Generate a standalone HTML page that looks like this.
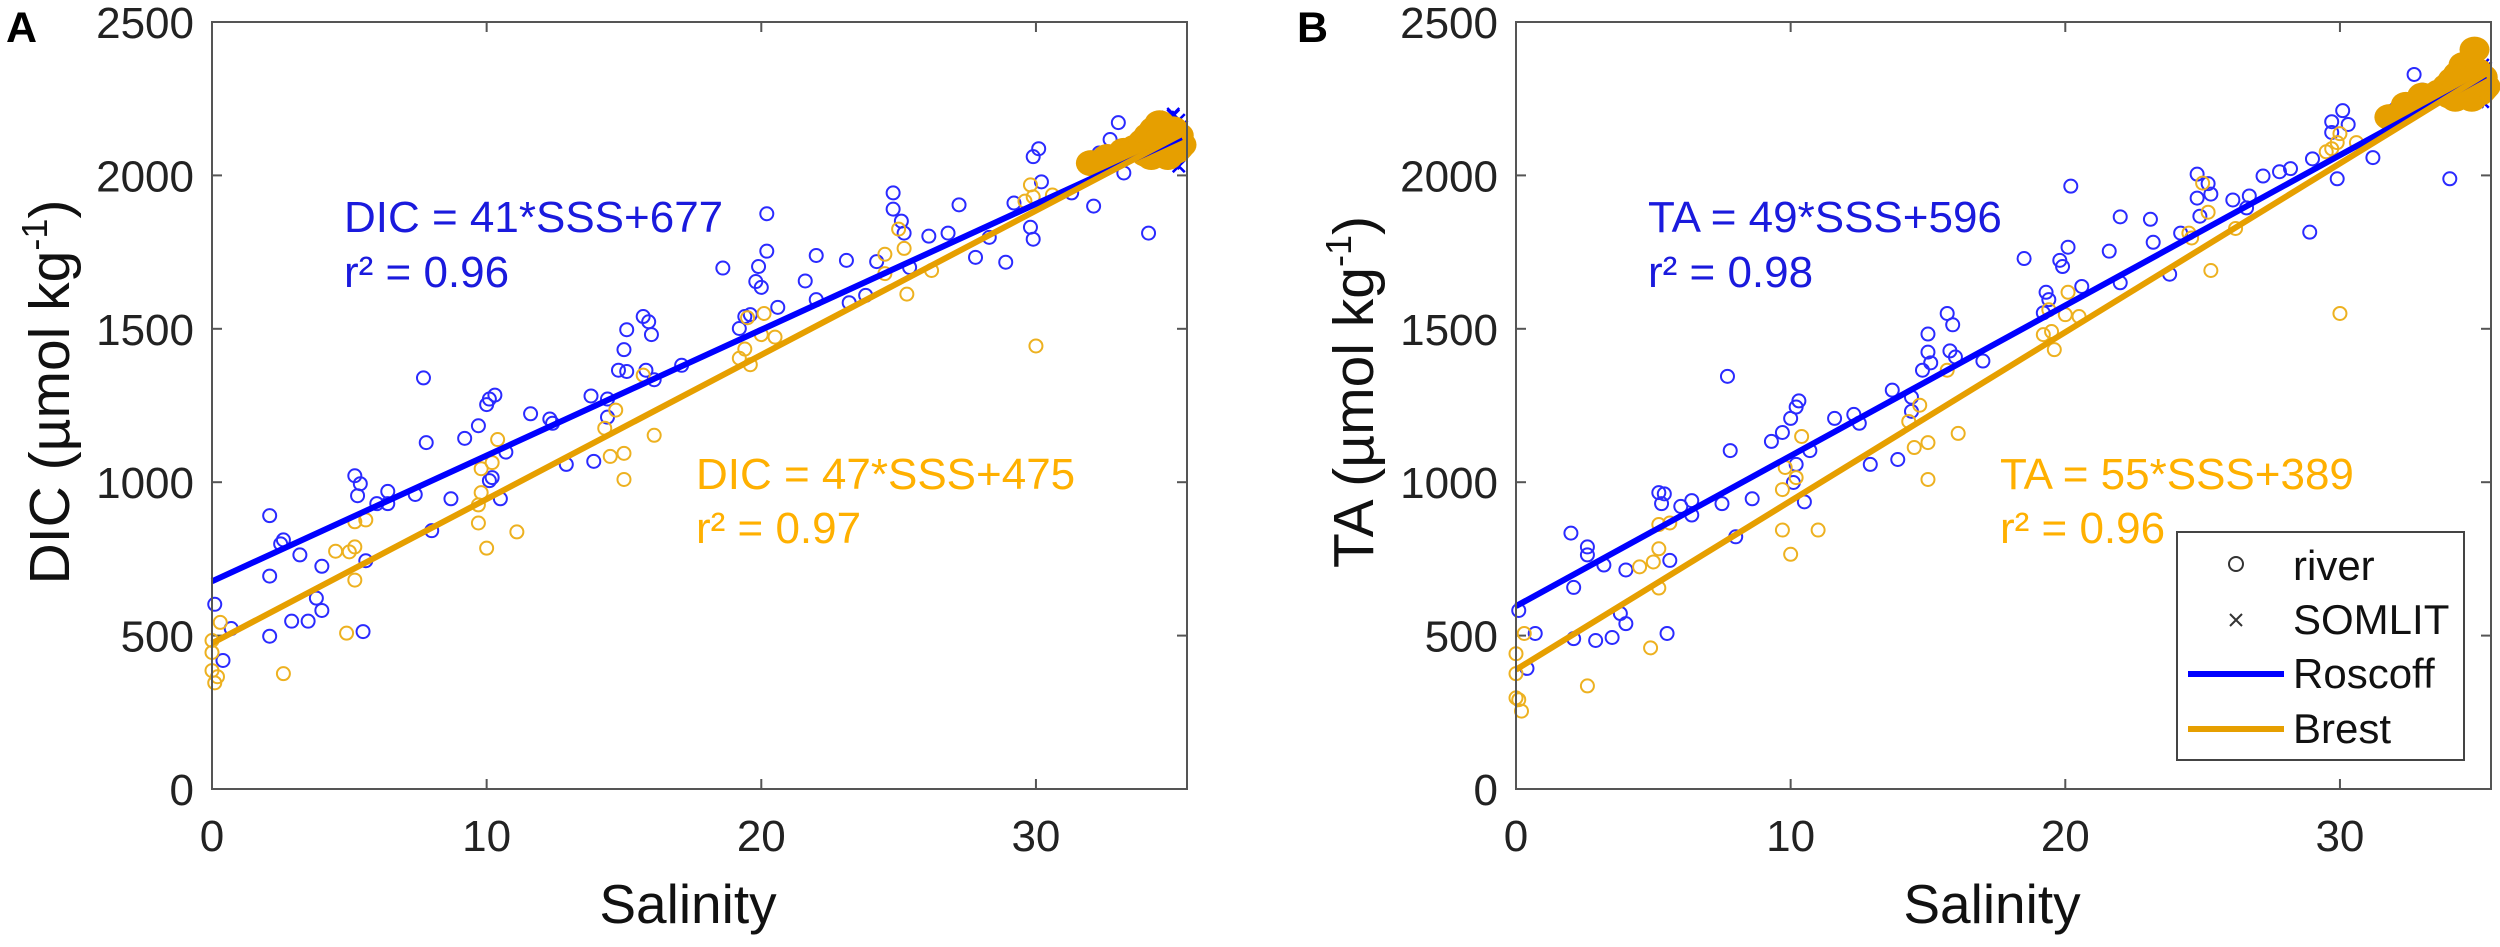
<!DOCTYPE html>
<html><head><meta charset="utf-8">
<style>
html,body{margin:0;padding:0;background:#fff;}
svg{display:block;font-family:"Liberation Sans",Arial,sans-serif;}
</style></head>
<body>
<svg id="chart" width="2500" height="947" viewBox="0 0 2500 947" xmlns="http://www.w3.org/2000/svg"></svg>
<script>
// ---------- data ----------
const xTicks = [0, 10, 20, 30];
const yTicks = [0, 500, 1000, 1500, 2000, 2500];

// Panel A (DIC) river samples
const aRoscoffSal = [0.1,0.4,0.7,2.1,2.1,2.1,2.6,2.5,2.9,3.2,3.5,3.8,4.0,4.0,5.2,5.4,5.3,5.5,5.6,6.0,6.4,6.4,7.4,7.7,7.8,8.0,8.7,9.2,9.7,10.0,10.1,10.3,10.1,10.2,10.5,10.7,11.6,12.3,12.4,12.9,13.8,13.9,14.4,14.4,14.8,15.0,15.1,15.1,15.7,15.9,16.0,15.8,16.1,17.1,18.6,19.2,19.4,19.6,19.8,19.9,20.0,20.2,20.2,20.6,21.6,22.0,22.0,23.1,23.2,23.8,24.2,24.8,24.8,25.1,25.2,25.4,26.1,26.8,27.2,27.8,28.3,28.9,29.2,29.8,29.9,29.9,30.1,30.2,31.3,32.1,32.3,33.0,32.7,33.2,34.1];
const aRoscoffDic = [602,419,523,891,694,498,812,799,547,763,547,622,582,726,1021,995,956,513,744,930,970,930,960,1340,1129,842,946,1143,1184,1253,1271,1284,1005,1015,946,1098,1223,1206,1192,1058,1281,1068,1271,1212,1365,1432,1497,1361,1540,1523,1481,1365,1334,1381,1698,1501,1540,1546,1654,1703,1635,1753,1875,1570,1656,1739,1595,1723,1585,1609,1719,1943,1890,1851,1812,1700,1802,1812,1904,1733,1798,1717,1910,1831,1792,2061,2087,1979,1943,1900,2073,2172,2117,2008,1812];
const aBrestSal = [0,0,0,0.1,0.2,0.3,2.6,4.5,4.9,5.0,5.2,5.2,5.2,5.6,9.7,9.7,9.8,9.8,10.0,10.2,10.4,11.1,14.3,14.7,14.5,15.0,15.0,15.7,16.1,19.2,19.4,19.5,19.6,20.0,20.1,20.5,24.5,24.5,25.0,25.2,25.3,26.2,29.6,29.8,29.9,30.0,30.6];
const aBrestDic = [484,445,386,346,366,543,376,775,508,773,789,871,681,877,867,926,966,1044,785,1064,1139,838,1176,1235,1084,1094,1009,1349,1153,1404,1434,1536,1383,1481,1550,1473,1680,1743,1825,1762,1613,1690,1916,1969,1930,1444,1936];
// Panel A SOMLIT (coastal) samples
const aRoscoffOceanSal = [33.6,33.9,34.1,34.3,34.5,34.6,34.8,34.9,35.0,35.1,35.2,35.3,35.4,35.0,34.7,34.4,35.2,35.3,34.9,35.1,34.6,35.4,34.2,35.0];
const aRoscoffOceanDic = [2060,2100,2140,2120,2170,2080,2190,2050,2200,2150,2180,2110,2090,2040,2130,2060,2030,2160,2175,2075,2155,2130,2100,2195];
const aBrestOceanSal = [32.0,32.6,33.2,33.6,33.9,34.1,34.3,34.4,34.5,34.6,34.7,34.8,34.9,35.0,35.1,35.2,35.3,34.2,34.5,34.8,35.0,34.6,34.9,35.2,34.3,34.7,35.1,34.0,34.4,34.8];
const aBrestOceanDic = [2040,2060,2080,2090,2110,2130,2150,2100,2070,2160,2120,2090,2140,2110,2080,2130,2100,2060,2170,2060,2150,2100,2120,2090,2130,2080,2110,2070,2110,2140];

// Panel B (TA) river samples
const bRoscoffSal = [0.1,0.4,0.7,2.0,2.1,2.1,2.6,2.6,2.9,3.2,3.5,3.8,4.0,4.0,5.2,5.4,5.3,5.5,5.6,6.0,6.4,6.4,7.5,7.7,7.8,8.0,8.6,9.3,9.7,10.0,10.2,10.3,10.1,10.2,10.5,10.7,11.6,12.3,12.5,12.9,13.7,13.9,14.4,14.4,14.8,15.0,15.0,15.1,15.7,15.9,15.8,16.0,17.0,18.5,19.2,19.3,19.4,19.8,19.9,20.1,20.2,20.6,21.6,22.0,22.0,23.1,23.2,23.8,24.2,24.8,24.8,25.2,25.3,24.9,26.1,26.6,26.7,27.2,27.8,28.2,28.9,29.0,29.7,29.7,29.9,30.1,30.3,31.2,32.0,32.7,33.0,34.0];
const bRoscoffTa = [582,393,507,834,657,490,789,763,484,730,494,572,539,714,966,962,930,507,745,921,940,893,930,1345,1103,822,946,1133,1162,1208,1245,1265,999,1058,936,1103,1208,1221,1192,1058,1300,1074,1277,1231,1365,1424,1483,1389,1550,1513,1428,1408,1395,1729,1552,1619,1595,1723,1703,1766,1965,1638,1753,1865,1650,1857,1782,1678,1812,2004,1926,1973,1939,1867,1920,1894,1933,1998,2012,2022,1815,2054,2140,2175,1989,2211,2166,2058,2215,2329,2278,1989];
const bBrestSal = [0,0,0,0.1,0.2,0.3,2.6,4.5,4.9,5.0,5.2,5.2,5.2,5.6,9.7,9.7,9.8,10.0,10.2,10.4,11.0,14.3,14.7,14.5,15.0,15.0,15.7,16.1,19.2,19.5,19.4,19.6,20.0,20.1,20.5,24.5,24.6,25.0,25.2,25.3,26.2,29.5,29.7,30.0,29.9,30.0,30.6];
const bBrestTa = [441,376,297,291,254,507,336,724,460,740,783,862,655,867,844,976,1048,765,1015,1149,844,1198,1251,1113,1129,1009,1365,1159,1481,1491,1562,1432,1546,1619,1540,1812,1796,1975,1880,1690,1827,2077,2087,2136,2107,1550,2107];
// Panel B SOMLIT samples
const bRoscoffOceanSal = [33.6,33.9,34.1,34.3,34.5,34.6,34.8,34.9,35.0,35.1,35.2,35.3,35.4,35.0,34.7,34.4,35.2,35.3,34.9,35.1,34.6,35.4,34.2,35.0];
const bRoscoffOceanTa = [2260,2300,2330,2310,2370,2280,2380,2250,2390,2340,2360,2300,2290,2240,2320,2270,2240,2350,2365,2275,2345,2320,2290,2385];
const bBrestOceanSal = [31.8,32.4,33.0,33.6,33.9,34.1,34.3,34.4,34.5,34.6,34.7,34.8,34.9,35.0,35.1,35.2,35.3,34.2,34.5,34.8,35.0,34.6,34.9,35.2,34.3,34.7,35.1,34.0,34.4,34.9];
const bBrestOceanTa = [2190,2230,2260,2270,2290,2310,2330,2290,2260,2350,2310,2280,2330,2300,2270,2320,2290,2250,2360,2250,2340,2290,2310,2280,2320,2270,2300,2260,2300,2410];

// regression fits [slope, intercept]
const aRoscoffFit = [41, 677];
const aBrestFit = [47, 475];
const bRoscoffFit = [49, 596];
const bBrestFit = [55, 389];

// ---------- drawing ----------
const NS = "http://www.w3.org/2000/svg";
const svg = document.getElementById("chart");
const BLUE = "#0000ff", BLUEM = "#2a2aff", ORANGE = "#e69f00", ORANGEM = "#edb120", BLUET = "#1a1add", ORANGET = "#ffb000";
function mk(tag, attrs, parent) {
  const e = document.createElementNS(NS, tag);
  for (const k in attrs) e.setAttribute(k, attrs[k]);
  (parent || svg).appendChild(e);
  return e;
}
const X0 = 0, X1 = 35.5, Y0 = 0, Y1 = 2500;
const TOP = 22, BOT = 789, W = 975;

function panel(left, id, yTitle, sRos, vRos, sBre, vBre, soRos, voRos, soBre, voBre, fitR, fitB, eqR, eqB, r2R, r2B) {
  const g = mk("g", {});
  
  
  const xs = v => left + (v - X0) / (X1 - X0) * W;
  const ys = v => BOT - (v - Y0) / (Y1 - Y0) * (BOT - TOP);

  xTicks.forEach(t => {
    const x = xs(t);
    mk("line", {x1: x, y1: BOT, x2: x, y2: BOT - 10, stroke: "#555", "stroke-width": 2}, g);
    mk("line", {x1: x, y1: TOP, x2: x, y2: TOP + 10, stroke: "#555", "stroke-width": 2}, g);
    const tx = mk("text", {x: x, y: 851, "text-anchor": "middle", "font-size": 44, fill: "#222"}, g);
    tx.textContent = t;
    
    
  });
  yTicks.forEach(t => {
    const y = ys(t);
    mk("line", {x1: left, y1: y, x2: left + 10, y2: y, stroke: "#555", "stroke-width": 2}, g);
    mk("line", {x1: left + W, y1: y, x2: left + W - 10, y2: y, stroke: "#555", "stroke-width": 2}, g);
    const ty = mk("text", {x: left - 18, y: y + 16, "text-anchor": "end", "font-size": 44, fill: "#222"}, g);
    ty.textContent = t;
    
    
  });

  const circ = (s, v, col, name) => s.forEach((sv, i) => {
    const c = mk("circle", {cx: xs(sv), cy: ys(v[i]), r: 6.5, fill: "none", stroke: col, "stroke-width": 2}, g);
    
    
  });
  const cross = (s, v, col, name) => s.forEach((sv, i) => {
    const x = xs(sv), y = ys(v[i]), d = 6;
    const p = mk("path", {d: `M${x-d},${y-d}L${x+d},${y+d}M${x-d},${y+d}L${x+d},${y-d}`, stroke: col, "stroke-width": 2.5}, g);
    
    
  });
  circ(sRos, vRos, BLUEM, 'roscoff-river-point');
  cross(soRos, voRos, BLUE, 'roscoff-somlit-point');
  circ(sBre, vBre, ORANGEM, 'brest-river-point');
  cross(soBre, voBre, ORANGE, 'brest-somlit-point');
  soBre.forEach((sv, i) => {
    const e = mk("ellipse", {cx: xs(sv), cy: ys(voBre[i]), rx: 15, ry: 13, fill: ORANGE}, g);
    
    
  });

  const fit = (f, col, name) => {
    const l = mk("line", {x1: xs(0), y1: ys(f[1]), x2: xs(35.3), y2: ys(f[0] * 35.3 + f[1]), stroke: col, "stroke-width": 6}, g);
    
    
  };
  fit(fitR, BLUE, 'roscoff-fit-line');
  fit(fitB, ORANGE, 'brest-fit-line');

  const box = mk("rect", {x: left, y: TOP, width: W, height: BOT - TOP, fill: "none", stroke: "#555", "stroke-width": 2}, g);
  
  

  const txt = (x, y, col, s, name) => {
    const t = mk("text", {x: x, y: y, "font-size": 44, fill: col}, g);
    t.textContent = s;
    
    
  };
  txt(left + 132, 232, BLUET, eqR, 'roscoff-equation');
  txt(left + 132, 287, BLUET, r2R, 'roscoff-r2');
  txt(left + 484, 489, ORANGET, eqB, 'brest-equation');
  txt(left + 484, 543, ORANGET, r2B, 'brest-r2');

  const xt = mk("text", {x: left + 476, y: 923, "text-anchor": "middle", "font-size": 55, fill: "#111"}, g);
  xt.textContent = "Salinity";
  
  
  const yx = left - 143, yy = 392;
  const yt = mk("text", {x: yx, y: yy, "text-anchor": "middle", "font-size": 57, fill: "#111", transform: `rotate(-90 ${yx} ${yy})`}, g);
  
  
  yt.appendChild(document.createTextNode(yTitle + " (µmol kg"));
  const sup = mk("tspan", {"font-size": 36, dy: -22}, yt);
  sup.textContent = "-1";
  const cl = mk("tspan", {dy: 22}, yt);
  cl.textContent = ")";
  return {xs, ys};
}

panel(212, 'a', 'DIC', aRoscoffSal, aRoscoffDic, aBrestSal, aBrestDic, aRoscoffOceanSal, aRoscoffOceanDic, aBrestOceanSal, aBrestOceanDic, aRoscoffFit, aBrestFit, "DIC = 41*SSS+677", "DIC = 47*SSS+475", "r² = 0.96", "r² = 0.97");
panel(1516, 'b', 'TA', bRoscoffSal, bRoscoffTa, bBrestSal, bBrestTa, bRoscoffOceanSal, bRoscoffOceanTa, bBrestOceanSal, bBrestOceanTa, bRoscoffFit, bBrestFit, "TA = 49*SSS+596", "TA = 55*SSS+389", "r² = 0.98", "r² = 0.96");

const la = mk("text", {x: 6, y: 42, "font-size": 43, "font-weight": "bold", fill: "#000"});
la.textContent = "A";


const lb = mk("text", {x: 1297, y: 42, "font-size": 43, "font-weight": "bold", fill: "#000"});
lb.textContent = "B";



const lg = mk("g", {});


mk("rect", {x: 2177, y: 532, width: 287, height: 228, fill: "#fff", stroke: "#444", "stroke-width": 2}, lg);
const lc = mk("circle", {cx: 2236, cy: 564, r: 7, fill: "none", stroke: "#333", "stroke-width": 2}, lg);


const lx = mk("path", {d: "M2230,614L2242,626M2230,626L2242,614", stroke: "#333", "stroke-width": 2}, lg);


const lr = mk("line", {x1: 2188, y1: 674, x2: 2284, y2: 674, stroke: BLUE, "stroke-width": 6}, lg);


const lbr = mk("line", {x1: 2188, y1: 729, x2: 2284, y2: 729, stroke: ORANGE, "stroke-width": 6}, lg);


[["river", 580], ["SOMLIT", 634], ["Roscoff", 688], ["Brest", 743]].forEach(([s, y]) => {
  const t = mk("text", {x: 2293, y: y, "font-size": 42, fill: "#111"}, lg);
  t.textContent = s;
  
  
});
</script>
</body></html>
